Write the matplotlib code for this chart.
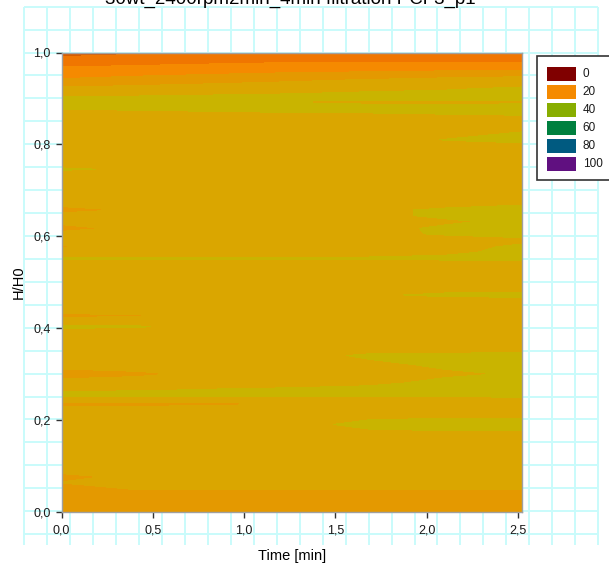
import numpy as np
import matplotlib
matplotlib.use("Agg")
import matplotlib.pyplot as plt
from matplotlib.colors import LinearSegmentedColormap
from matplotlib.patches import Rectangle

plt.rcParams['font.family'] = ['Liberation Sans', 'DejaVu Sans']

titel = "30wt_2400rpm2min_4min filtration PCF3_p1"

# Messzeitpunkte [min] und relative Hoehe H/H0
zeit = [0.0, 0.42, 0.84, 1.26, 1.68, 2.10, 2.52]
hoehe = [0.000, 0.040, 0.055, 0.064, 0.076, 0.092, 0.160, 0.190, 0.220, 0.235,
         0.245, 0.255, 0.265, 0.280, 0.300, 0.320, 0.340, 0.355, 0.390, 0.403,
         0.415, 0.427, 0.440, 0.460, 0.472, 0.485, 0.540, 0.552, 0.565, 0.577,
         0.592, 0.605, 0.617, 0.632, 0.645, 0.657, 0.672, 0.735, 0.746, 0.757,
         0.795, 0.810, 0.825, 0.840, 0.860, 0.880, 0.893, 0.900, 0.920, 0.940,
         0.960, 0.980, 1.000]

# Feststoffanteil je Hoehe (Zeile) und Zeitpunkt (Spalte)
werte = [
    [21.0, 21.0, 21.0, 21.0, 21.0, 21.0, 21.0],
    [21.6, 22.0, 22.0, 22.0, 22.0, 22.0, 22.0],
    [22.0, 23.0, 23.0, 23.0, 23.0, 23.0, 23.0],
    [22.6, 23.6, 23.8, 23.8, 23.8, 23.8, 23.8],
    [21.5, 23.4, 23.8, 23.8, 23.8, 23.8, 23.8],
    [23.8, 23.8, 23.8, 23.8, 23.8, 23.8, 23.8],
    [23.8, 23.8, 23.8, 23.8, 23.8, 23.8, 23.8],
    [23.8, 23.8, 23.8, 24.3, 25.6, 26.0, 26.0],
    [23.8, 23.8, 23.8, 23.8, 23.8, 23.8, 23.8],
    [21.8, 21.8, 22.0, 22.6, 23.8, 23.8, 23.8],
    [23.8, 23.8, 23.8, 23.8, 23.8, 23.8, 23.8],
    [26.0, 26.0, 26.0, 26.0, 26.0, 26.2, 26.4],
    [24.5, 24.8, 25.2, 25.5, 25.8, 26.2, 26.4],
    [23.8, 23.8, 23.8, 24.0, 24.5, 25.6, 26.2],
    [21.0, 22.0, 23.2, 23.8, 24.2, 24.6, 25.2],
    [23.8, 23.8, 23.8, 23.8, 24.4, 25.4, 26.2],
    [23.8, 23.8, 23.8, 24.0, 25.4, 25.6, 26.0],
    [23.8, 23.8, 23.8, 23.8, 23.8, 23.8, 23.8],
    [23.8, 23.8, 23.8, 23.8, 23.8, 23.8, 23.8],
    [25.5, 25.2, 24.0, 23.8, 23.8, 23.8, 23.8],
    [23.8, 23.8, 23.8, 23.8, 23.8, 23.8, 23.8],
    [21.8, 22.3, 23.6, 23.8, 23.8, 23.8, 23.8],
    [23.8, 23.8, 23.8, 23.8, 23.8, 23.8, 23.8],
    [23.8, 23.8, 23.8, 23.8, 23.8, 23.8, 23.8],
    [23.8, 23.8, 23.8, 23.8, 24.5, 25.6, 25.8],
    [23.8, 23.8, 23.8, 23.8, 23.8, 23.8, 23.8],
    [23.8, 23.8, 23.8, 23.8, 23.8, 23.8, 23.8],
    [25.3, 25.3, 25.3, 25.3, 25.3, 25.6, 26.2],
    [23.8, 23.8, 23.8, 23.8, 23.8, 24.4, 25.8],
    [22.2, 23.8, 23.8, 23.8, 23.8, 24.2, 25.4],
    [23.8, 23.8, 23.8, 23.8, 23.8, 23.8, 24.4],
    [23.8, 23.8, 23.8, 23.8, 24.2, 25.3, 26.0],
    [21.0, 23.8, 23.8, 23.8, 24.2, 25.4, 26.0],
    [23.8, 23.8, 23.8, 23.8, 23.8, 24.6, 25.6],
    [23.8, 23.8, 23.8, 23.8, 24.3, 25.5, 26.0],
    [21.2, 23.0, 23.8, 23.8, 24.3, 25.5, 26.0],
    [23.8, 23.8, 23.8, 23.8, 23.8, 23.8, 24.6],
    [23.8, 23.8, 23.8, 23.8, 23.8, 23.8, 23.8],
    [25.4, 24.5, 23.8, 23.8, 23.8, 23.8, 23.8],
    [23.8, 23.8, 23.8, 23.8, 23.8, 23.8, 23.8],
    [23.8, 23.8, 23.8, 23.8, 23.8, 23.8, 23.8],
    [23.8, 23.8, 23.8, 23.8, 23.8, 25.1, 26.0],
    [23.8, 23.8, 23.8, 23.8, 23.8, 23.8, 25.2],
    [23.8, 23.8, 23.8, 23.8, 23.8, 23.8, 23.8],
    [23.8, 24.0, 24.3, 24.5, 24.6, 24.8, 24.9],
    [25.3, 25.4, 25.5, 25.55, 25.55, 25.5, 25.5],
    [25.6, 25.7, 25.7, 24.9, 24.6, 24.6, 24.7],
    [25.4, 25.5, 25.6, 25.6, 25.8, 25.9, 26.0],
    [23.2, 23.6, 24.0, 24.4, 24.7, 24.9, 25.4],
    [20.3, 20.9, 21.5, 22.1, 22.7, 23.3, 23.8],
    [18.4, 18.8, 19.1, 19.5, 19.7, 20.0, 20.2],
    [16.25, 16.6, 17.0, 17.3, 17.3, 17.4, 17.4],
    [14.0, 14.6, 15.1, 16.0, 16.0, 16.0, 16.0],
]

stufen = np.arange(0, 102.5, 2.5)
legende_werte = [0, 20, 40, 60, 80, 100]
legende_farben = ['#800000', '#f58a00', '#88ad00', '#00803f', '#005a80', '#601080']

# Farbverlauf dunkelrot -> orange -> gruen -> blau -> violett
farbverlauf = LinearSegmentedColormap.from_list('anteil', [
    (0.0, '#800000'), (0.1375, '#d65c00'), (0.1625, '#f27800'),
    (0.1875, '#f68a00'), (0.2125, '#e39900'), (0.2375, '#d9a700'),
    (0.2625, '#c9b400'), (0.40, '#88ad00'), (0.60, '#00803f'),
    (0.80, '#005a80'), (1.0, '#601080')])

fig = plt.figure(figsize=(6.09, 5.71), dpi=100)

# Millimeterpapier im Hintergrund
hg = fig.add_axes([0, 0, 1, 1], zorder=0)
hg.set_xlim(0, 609)
hg.set_ylim(571, 0)
hg.axis('off')
gitter_x = np.linspace(24, 598.3, 26)
gitter_y = 6.7 + 22.93 * np.arange(24)
hg.vlines(gitter_x, 6.7, 545, color='#c9fbfb', lw=1.4)
hg.hlines(gitter_y, 24, 598.3, color='#c9fbfb', lw=1.4)

ax = fig.add_axes([61.5 / 609, (571 - 511.7) / 571, 460.2 / 609, 459.2 / 571], zorder=1)
ax.contourf(zeit, hoehe, werte, levels=stufen, cmap=farbverlauf, vmin=0, vmax=100)
ax.set_xlim(0, 2.52)
ax.set_ylim(0, 1)
ax.set_xticks([0, 0.5, 1.0, 1.5, 2.0, 2.5])
ax.set_yticks([0, 0.2, 0.4, 0.6, 0.8, 1.0])
komma = lambda v, pos: f"{v:.1f}".replace('.', ',')
ax.xaxis.set_major_formatter(komma)
ax.yaxis.set_major_formatter(komma)
ax.tick_params(direction='out', length=4, width=1, color='#333333',
               labelcolor='#1a1a1a', labelsize=9)
ax.tick_params(axis='x', pad=5.5)
ax.tick_params(axis='y', pad=4)
for spine in ax.spines.values():
    spine.set_color('#a0a0a0')
    spine.set_linewidth(1)
ax.set_xlabel('Time [min]', fontsize=10.5, labelpad=9)
ax.set_ylabel('H/H0', fontsize=10.5, labelpad=5)

fig.text(290 / 609, 1 - 3.5 / 571, titel, fontsize=13.5, ha='center', va='baseline')

# Legende
lg = fig.add_axes([0, 0, 1, 1], zorder=2)
lg.set_xlim(0, 609)
lg.set_ylim(571, 0)
lg.axis('off')
lg.add_patch(Rectangle((537.3, 56), 80, 124, facecolor='white', edgecolor='#333333', lw=1.2))
for i, (wert, farbe) in enumerate(zip(legende_werte, legende_farben)):
    oben = 67 + 18 * i
    lg.add_patch(Rectangle((546.7, oben), 29, 13.5, facecolor=farbe, edgecolor='none'))
    lg.text(582.7, oben + 6.9, str(wert), fontsize=8.5, va='center', ha='left', color='#1a1a1a')

fig.savefig('out.png', dpi=100)
